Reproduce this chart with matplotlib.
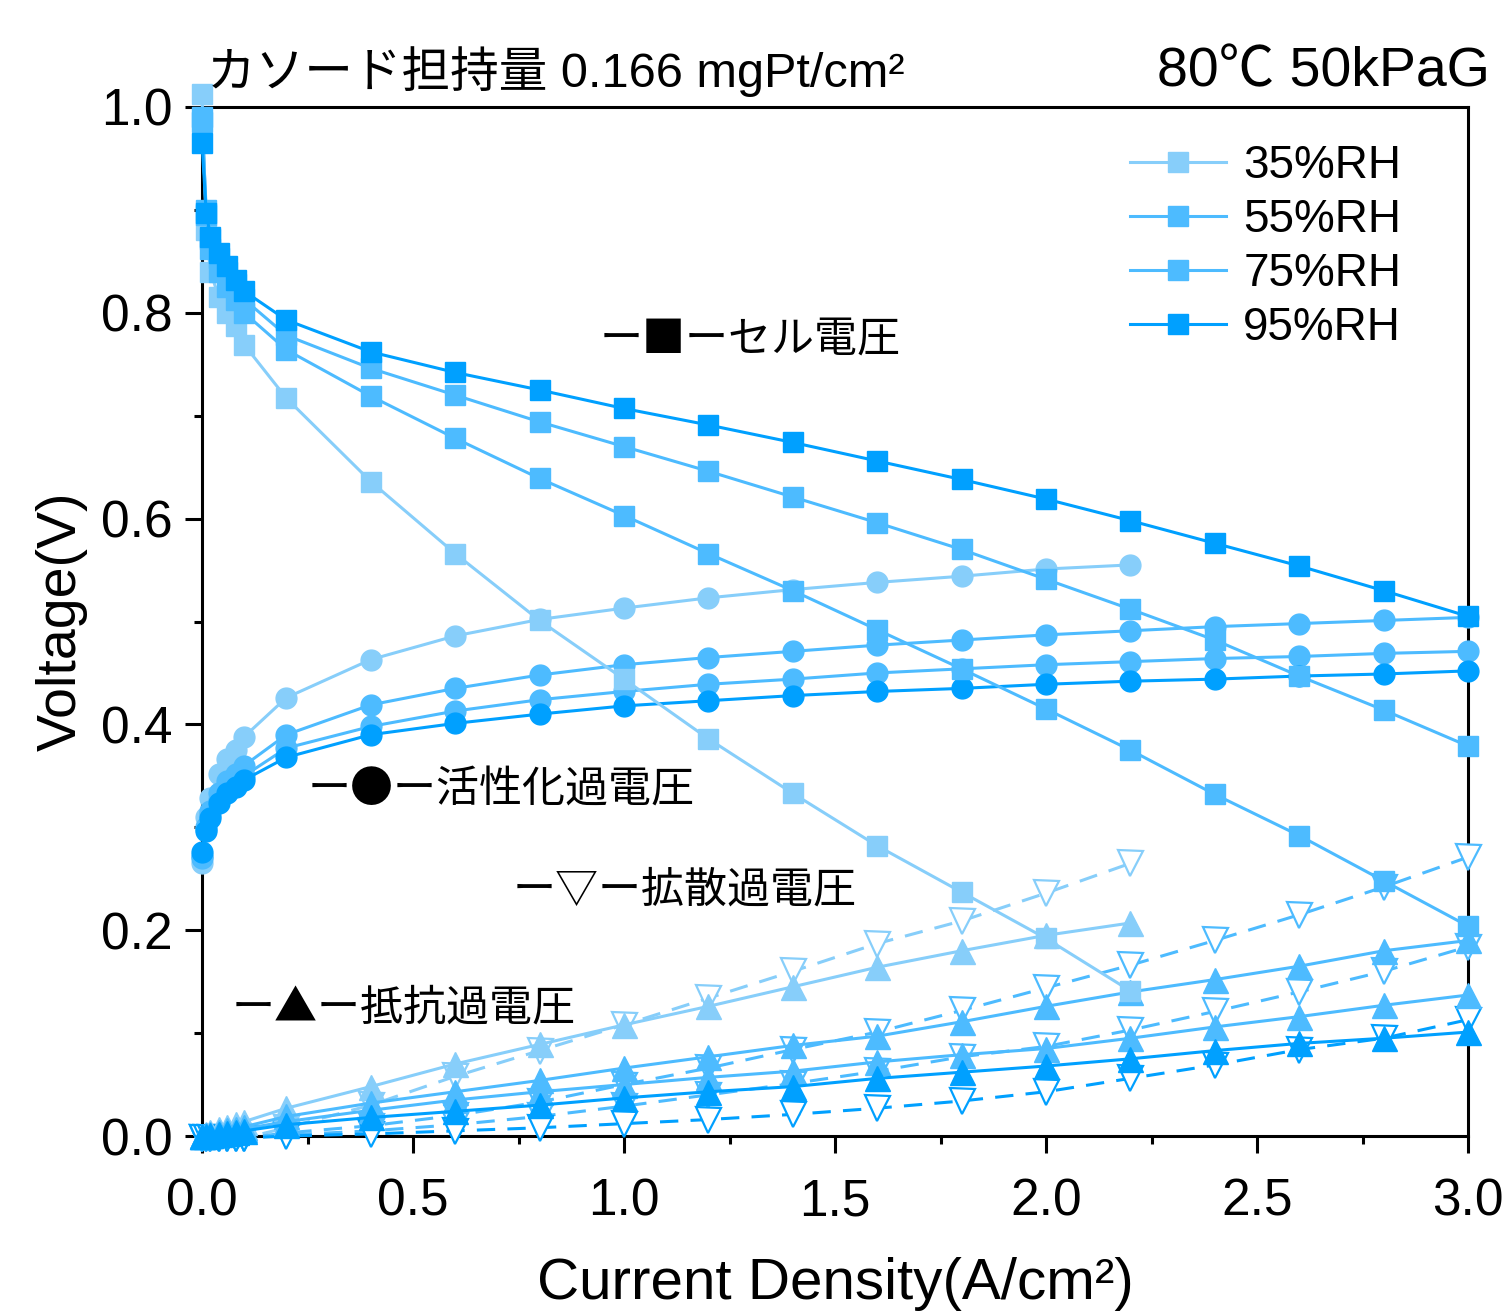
import matplotlib
matplotlib.use("Agg")
import matplotlib.pyplot as plt

plt.rcParams['font.family'] = ['Liberation Sans', 'Noto Sans CJK JP']

# ---------------- data ----------------
rh_labels = ["35%RH", "55%RH", "75%RH", "95%RH"]
colors = ["#87CEFA", "#4DBBFF", "#4DBBFF", "#00A0FF"]

current_long = [0, 0.01, 0.02, 0.04, 0.06, 0.08, 0.1, 0.2, 0.4, 0.6, 0.8, 1.0,
                1.2, 1.4, 1.6, 1.8, 2.0, 2.2, 2.4, 2.6, 2.8, 3.0]
current_short = [0, 0.01, 0.02, 0.04, 0.06, 0.08, 0.1, 0.2, 0.4, 0.6, 0.8, 1.0,
                 1.2, 1.4, 1.6, 1.8, 2.0, 2.2]

# cell voltage (squares)
cell_35 = [1.013, 0.88, 0.84, 0.815, 0.80, 0.787, 0.769, 0.717, 0.636, 0.566, 0.501,
           0.444, 0.386, 0.333, 0.282, 0.237, 0.192, 0.141]
cell_55 = [0.99, 0.895, 0.862, 0.84, 0.825, 0.812, 0.80, 0.764, 0.719, 0.678, 0.639,
           0.603, 0.566, 0.53, 0.492, 0.454, 0.415, 0.375, 0.332, 0.292, 0.248, 0.204]
cell_75 = [0.985, 0.90, 0.872, 0.853, 0.84, 0.828, 0.813, 0.778, 0.746, 0.72, 0.694,
           0.67, 0.646, 0.621, 0.596, 0.57, 0.541, 0.512, 0.482, 0.447, 0.414, 0.379]
cell_95 = [0.965, 0.897, 0.874, 0.858, 0.845, 0.832, 0.821, 0.793, 0.762, 0.742, 0.725,
           0.707, 0.691, 0.674, 0.656, 0.638, 0.619, 0.598, 0.576, 0.554, 0.53, 0.505]

# activation overvoltage (circles)
act_35 = [0.265, 0.31, 0.328, 0.352, 0.366, 0.375, 0.388, 0.426, 0.463, 0.486, 0.502,
          0.513, 0.523, 0.531, 0.538, 0.544, 0.551, 0.555]
act_55 = [0.27, 0.30, 0.316, 0.333, 0.345, 0.352, 0.36, 0.39, 0.419, 0.435, 0.448,
          0.458, 0.465, 0.471, 0.477, 0.482, 0.487, 0.491, 0.495, 0.498, 0.501, 0.504]
act_75 = [0.272, 0.298, 0.312, 0.327, 0.337, 0.344, 0.35, 0.377, 0.398, 0.413, 0.424,
          0.432, 0.439, 0.444, 0.45, 0.454, 0.458, 0.461, 0.464, 0.466, 0.469, 0.471]
act_95 = [0.276, 0.296, 0.309, 0.324, 0.333, 0.339, 0.346, 0.368, 0.39, 0.401, 0.41,
          0.418, 0.423, 0.428, 0.432, 0.435, 0.439, 0.442, 0.444, 0.447, 0.449, 0.452]

# resistance overvoltage (filled triangles)
res_35 = [0.0, 0.002, 0.004, 0.007, 0.009, 0.012, 0.014, 0.027, 0.048, 0.07, 0.089,
          0.108, 0.126, 0.145, 0.164, 0.18, 0.195, 0.207]
res_55 = [0.0, 0.001, 0.002, 0.004, 0.006, 0.007, 0.009, 0.019, 0.032, 0.043, 0.054,
          0.066, 0.077, 0.088, 0.097, 0.111, 0.126, 0.14, 0.152, 0.165, 0.18, 0.19]
res_75 = [0.0, 0.001, 0.001, 0.003, 0.004, 0.005, 0.007, 0.014, 0.025, 0.035, 0.043,
          0.05, 0.057, 0.063, 0.072, 0.079, 0.085, 0.095, 0.106, 0.116, 0.127, 0.137]
res_95 = [0.0, 0.0, 0.001, 0.002, 0.003, 0.004, 0.005, 0.011, 0.018, 0.024, 0.03,
          0.037, 0.043, 0.048, 0.056, 0.062, 0.068, 0.075, 0.083, 0.09, 0.095, 0.101]

# diffusion overvoltage (open triangles, dashed)
diff_35 = [-0.002, -0.002, -0.002, -0.002, -0.002, -0.002, -0.002, 0.008, 0.03, 0.058,
           0.083, 0.108, 0.134, 0.16, 0.187, 0.209, 0.236, 0.265]
diff_55 = [-0.002, -0.002, -0.002, -0.002, -0.002, -0.002, -0.002, 0.003, 0.01, 0.02,
           0.033, 0.05, 0.066, 0.084, 0.101, 0.122, 0.144, 0.166, 0.19, 0.215, 0.242, 0.271]
diff_75 = [-0.002, -0.002, -0.002, -0.002, -0.002, -0.002, -0.002, 0.001, 0.005, 0.011,
           0.019, 0.029, 0.04, 0.051, 0.063, 0.077, 0.087, 0.103, 0.121, 0.14, 0.16, 0.184]
diff_95 = [-0.002, -0.002, -0.002, -0.002, -0.002, -0.002, -0.002, 0.0, 0.002, 0.005,
           0.008, 0.012, 0.016, 0.021, 0.027, 0.034, 0.043, 0.056, 0.069, 0.084, 0.095, 0.113]

currents = [current_short, current_long, current_long, current_long]
cells = [cell_35, cell_55, cell_75, cell_95]
acts = [act_35, act_55, act_75, act_95]
ress = [res_35, res_55, res_75, res_95]
diffs = [diff_35, diff_55, diff_75, diff_95]

# ---------------- figure ----------------
W, H = 1508, 1313
fig = plt.figure(figsize=(W / 100, H / 100), dpi=100)
ax = fig.add_axes([202 / W, 1 - 1136 / H, 1266 / W, 1029 / H])

lw = 2.2
for i in range(4):
    x = currents[i]
    c = colors[i]
    ax.plot(x, diffs[i], linestyle=(0, (6, 4)), lw=lw, color=c, marker='v', ms=18,
            mfc='white', mec=c, mew=1.6, clip_on=False, zorder=3)
for i in range(4):
    x = currents[i]
    c = colors[i]
    ax.plot(x, ress[i], '-', lw=lw, color=c, marker='^', ms=18, mec=c, clip_on=False, zorder=4)
    ax.plot(x, acts[i], '-', lw=lw, color=c, marker='o', ms=15, mec=c, clip_on=False, zorder=4)
    ax.plot(x, cells[i], '-', lw=lw, color=c, marker='s', ms=14, mec=c, clip_on=False,
            zorder=5, label=rh_labels[i])

ax.set_xlim(0, 3.0)
ax.set_ylim(0, 1.0)
ax.set_xticks([0, 0.5, 1.0, 1.5, 2.0, 2.5, 3.0])
ax.set_xticks([0.25, 0.75, 1.25, 1.75, 2.25, 2.75], minor=True)
ax.set_yticks([0, 0.2, 0.4, 0.6, 0.8, 1.0])
ax.set_yticks([0.1, 0.3, 0.5, 0.7, 0.9], minor=True)
ax.xaxis.set_major_formatter(matplotlib.ticker.FormatStrFormatter('%.1f'))
ax.yaxis.set_major_formatter(matplotlib.ticker.FormatStrFormatter('%.1f'))
ax.tick_params(which='major', direction='out', length=12, width=2.2, labelsize=37)
ax.tick_params(which='minor', direction='out', length=6, width=2.2)
ax.tick_params(axis='x', which='major', pad=18)
ax.tick_params(axis='y', which='major', pad=9)
for s in ax.spines.values():
    s.set_linewidth(2.2)

ax.set_xlabel("Current Density(A/cm²)", fontsize=42, labelpad=22)
ax.set_ylabel("Voltage(V)", fontsize=40, labelpad=10)

# legend (cell voltage only)
leg = ax.legend(loc='upper left', bbox_to_anchor=(1130 / W, 1 - 144 / H),
                bbox_transform=fig.transFigure, frameon=False, fontsize=33,
                handlelength=2.1, handletextpad=0.37, labelspacing=0.215,
                borderpad=0, borderaxespad=0)

# annotations
jp = ['Noto Sans CJK JP', 'Liberation Sans']
ax.text(0.943, 0.774, "ー■ーセル電圧", fontsize=31, family=jp, va='center', ha='left')
ax.text(0.251, 0.336, "ー●ー活性化過電圧", fontsize=31, family=jp, va='center', ha='left')
ax.text(0.737, 0.239, "ー▽ー拡散過電圧", fontsize=31, family=jp, va='center', ha='left')
ax.text(0.071, 0.124, "ー▲ー抵抗過電圧", fontsize=31, family=jp, va='center', ha='left')

fig.text(207 / W, 1 - 72 / H, "カソード担持量 0.166 mgPt/cm²", fontsize=35,
         family=['Liberation Sans', 'Noto Sans CJK JP'], va='center', ha='left')
fig.text(1490 / W, 1 - 72 / H, "80℃ 50kPaG", fontsize=40,
         family=['Liberation Sans', 'Noto Sans CJK JP'], va='center', ha='right')

fig.savefig("out.png", dpi=100)
